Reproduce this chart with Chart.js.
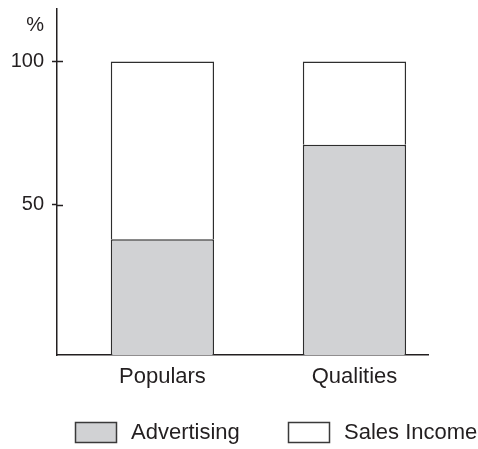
<!DOCTYPE html>
<html>
<head>
<meta charset="utf-8">
<script src="https://cdn.jsdelivr.net/npm/chart.js@4/dist/chart.umd.min.js"></script>
<style>
  body { margin: 0; background: #fff; }
  #wrap { width: 478px; height: 449px; }
</style>
</head>
<body>
<div id="wrap"><canvas id="shareChart"></canvas></div>
<script>
const categories = ['Populars', 'Qualities'];
const advertising = [38, 71];
const salesIncome = [62, 29];
const yTicks = [50, 100];

const ink = '#231f20';
const yMin = -2.34;   // axis line sits a little below the zero line in the original
const yMax = 118.3;
const pctPos = 112.5; // where the "%" unit label sits

// draws the inner half of the y ticks and the legend under the chart
const extras = {
    id: 'extras',
    afterDraw(chart) {
        const ctx = chart.ctx;
        const ys = chart.scales.y;
        const left = chart.chartArea.left;
        ctx.save();
        ctx.strokeStyle = ink;
        ctx.lineWidth = 1.5;
        yTicks.forEach(function (v) {
            const py = Math.round(ys.getPixelForValue(v)) + 0.5;
            ctx.beginPath();
            ctx.moveTo(left, py);
            ctx.lineTo(left + 6, py);
            ctx.stroke();
        });

        const boxX = [75.5, 288.5];
        ctx.font = '22px "Liberation Sans", Arial, sans-serif';
        ctx.textBaseline = 'middle';
        chart.data.datasets.forEach(function (ds, i) {
            ctx.fillStyle = ds.backgroundColor;
            ctx.fillRect(boxX[i], 422.5, 41, 20);
            ctx.strokeStyle = '#3a3a3a';
            ctx.lineWidth = 1.5;
            ctx.strokeRect(boxX[i], 422.5, 41, 20);
            ctx.fillStyle = ink;
            ctx.fillText(ds.label, boxX[i] + 55.5, 433);
        });
        ctx.restore();
    }
};

const ctx = document.getElementById('shareChart');
new Chart(ctx, {
    type: 'bar',
    data: {
        datasets: [{
            label: 'Advertising',
            data: categories.map((c, i) => ({x: i, y: advertising[i]})),
            backgroundColor: '#d1d2d4',
            borderColor: '#2e2e2e',
            borderWidth: 1.5,
            base: yMin
        }, {
            label: 'Sales Income',
            data: categories.map((c, i) => ({x: i, y: salesIncome[i]})),
            backgroundColor: '#ffffff',
            borderColor: '#2e2e2e',
            borderWidth: 1.5
        }]
    },
    options: {
        responsive: true,
        maintainAspectRatio: false,
        animation: false,
        barPercentage: 0.538,
        categoryPercentage: 1,
        layout: { padding: { top: 9, right: 50, bottom: 0, left: 0 } },
        plugins: {
            legend: { display: false },
            tooltip: { enabled: false }
        },
        scales: {
            x: {
                type: 'linear',
                stacked: true,
                offset: false,
                min: -0.549,
                max: 1.383,
                afterBuildTicks: axis => { axis.ticks = categories.map((c, i) => ({value: i})); },
                afterFit: axis => { axis.height = 94; axis.paddingLeft = 0; axis.paddingRight = 0; },
                grid: { display: false, drawTicks: false, offset: false },
                border: { display: true, color: ink, width: 1.5 },
                ticks: {
                    autoSkip: false,
                    maxRotation: 0,
                    padding: 9,
                    color: ink,
                    font: { family: '"Liberation Sans", Arial, sans-serif', size: 22 },
                    callback: v => categories[v]
                }
            },
            y: {
                stacked: true,
                min: yMin,
                max: yMax,
                afterBuildTicks: axis => {
                    axis.ticks = yTicks.concat([pctPos]).map(v => ({value: v}));
                },
                afterFit: axis => { axis.width = 57; axis.paddingTop = 0; axis.paddingBottom = 0; },
                grid: {
                    drawOnChartArea: false,
                    drawTicks: true,
                    tickLength: 5,
                    tickWidth: 1.5,
                    tickColor: c => (c.tick && c.tick.value === pctPos) ? 'rgba(0,0,0,0)' : ink
                },
                border: { display: true, color: ink, width: 1.5 },
                ticks: {
                    autoSkip: false,
                    padding: 8,
                    color: ink,
                    font: { family: '"Liberation Sans", Arial, sans-serif', size: 20 },
                    callback: v => v === pctPos ? '%' : v
                }
            }
        }
    },
    plugins: [extras]
});
</script>
</body>
</html>
